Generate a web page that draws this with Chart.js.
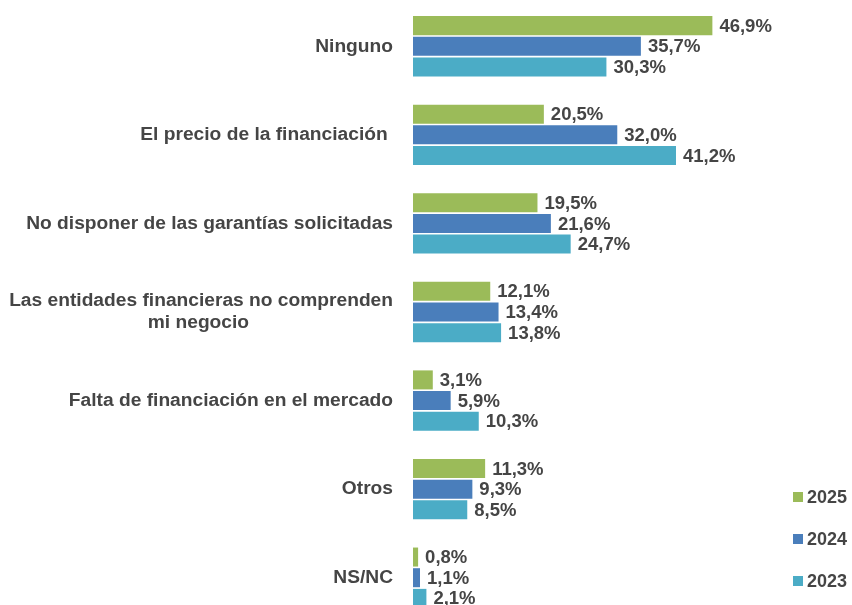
<!DOCTYPE html>
<html>
  <head>
    <meta charset="utf-8">
    <title>Obstáculos de financiación</title>
    <script src="https://cdn.jsdelivr.net/npm/chart.js"></script>
    <style>
      html, body { margin: 0; padding: 0; overflow: hidden; background: #fff; }
      #wrap { position: relative; width: 852px; height: 622px; }
    </style>
  </head>
  <body>
    <div id="wrap"><canvas id="chart"></canvas></div>

    <script>
      const categories = [
        "Ninguno",
        "El precio de la financiación ",
        "No disponer de las garantías solicitadas",
        ["Las entidades financieras no comprenden", "mi negocio"],
        "Falta de financiación en el mercado",
        "Otros",
        "NS/NC",
      ];
      const years = ["2025", "2024", "2023"];
      const values2025 = [46.9, 20.5, 19.5, 12.1, 3.1, 11.3, 0.8];
      const values2024 = [35.7, 32.0, 21.6, 13.4, 5.9, 9.3, 1.1];
      const values2023 = [30.3, 41.2, 24.7, 13.8, 10.3, 8.5, 2.1];
      const colors = ["#9BBB59", "#4A7EBB", "#4BACC6"];

      const textColor = "#454545";
      const fontFamily = "'Liberation Sans', Arial, sans-serif";

      // value labels at the end of each bar
      const barLabels = {
        id: "barLabels",
        afterDatasetsDraw(chart) {
          const ctx = chart.ctx;
          ctx.save();
          ctx.font = "bold 18.5px " + fontFamily;
          ctx.fillStyle = textColor;
          ctx.textAlign = "left";
          ctx.textBaseline = "middle";
          chart.data.datasets.forEach((ds, i) => {
            chart.getDatasetMeta(i).data.forEach((bar, j) => {
              const txt = ds.data[j].toFixed(1).replace(".", ",") + "%";
              ctx.fillText(txt, bar.x + 7, bar.y + 1);
            });
          });
          ctx.restore();
        },
      };

      // legend in the lower right corner
      const sideLegend = {
        id: "sideLegend",
        afterDraw(chart) {
          const ctx = chart.ctx;
          ctx.save();
          ctx.font = "bold 18px " + fontFamily;
          ctx.textBaseline = "middle";
          chart.data.datasets.forEach((ds, i) => {
            const y = 497 + i * 42;
            ctx.fillStyle = ds.backgroundColor;
            ctx.fillRect(793, y - 5, 10, 10);
            ctx.fillStyle = textColor;
            ctx.fillText(ds.label, 807, y + 1);
          });
          ctx.restore();
        },
      };

      const tickFont = { family: fontFamily, size: 19.2, weight: "bold", lineHeight: 1.15 };

      // centre the lines of a wrapped label within its block (block stays right-aligned)
      function centreLines(lines) {
        const c = document.createElement("canvas").getContext("2d");
        c.font = "bold " + tickFont.size + "px " + fontFamily;
        const w = lines.map((l) => c.measureText(l).width);
        const max = Math.max(...w);
        const sp = c.measureText(" ").width;
        return lines.map((l, k) => l + " ".repeat(Math.round((max - w[k]) / 2 / sp)));
      }

      new Chart(document.getElementById("chart"), {
        type: "bar",
        data: {
          labels: categories.map((l) => (Array.isArray(l) ? centreLines(l) : l)),
          datasets: [
            { label: years[0], data: values2025, backgroundColor: colors[0] },
            { label: years[1], data: values2024, backgroundColor: colors[1] },
            { label: years[2], data: values2023, backgroundColor: colors[2] },
          ],
        },
        options: {
          indexAxis: "y",
          responsive: true,
          maintainAspectRatio: false,
          animation: false,
          barPercentage: 0.92,
          categoryPercentage: 0.7,
          layout: { padding: { top: 2, right: 56 } },
          plugins: {
            legend: { display: false },
            tooltip: { enabled: false },
          },
          scales: {
            x: {
              display: false,
              min: 0,
              max: 60,
            },
            y: {
              grid: { display: false },
              border: { display: false },
              afterFit(scale) {
                scale.width = 413;
                scale.paddingTop = 0;
                scale.paddingBottom = 0;
              },
              ticks: {
                padding: 12,
                color: textColor,
                font: tickFont,
              },
            },
          },
        },
        plugins: [barLabels, sideLegend],
      });
    </script>
  </body>
</html>
